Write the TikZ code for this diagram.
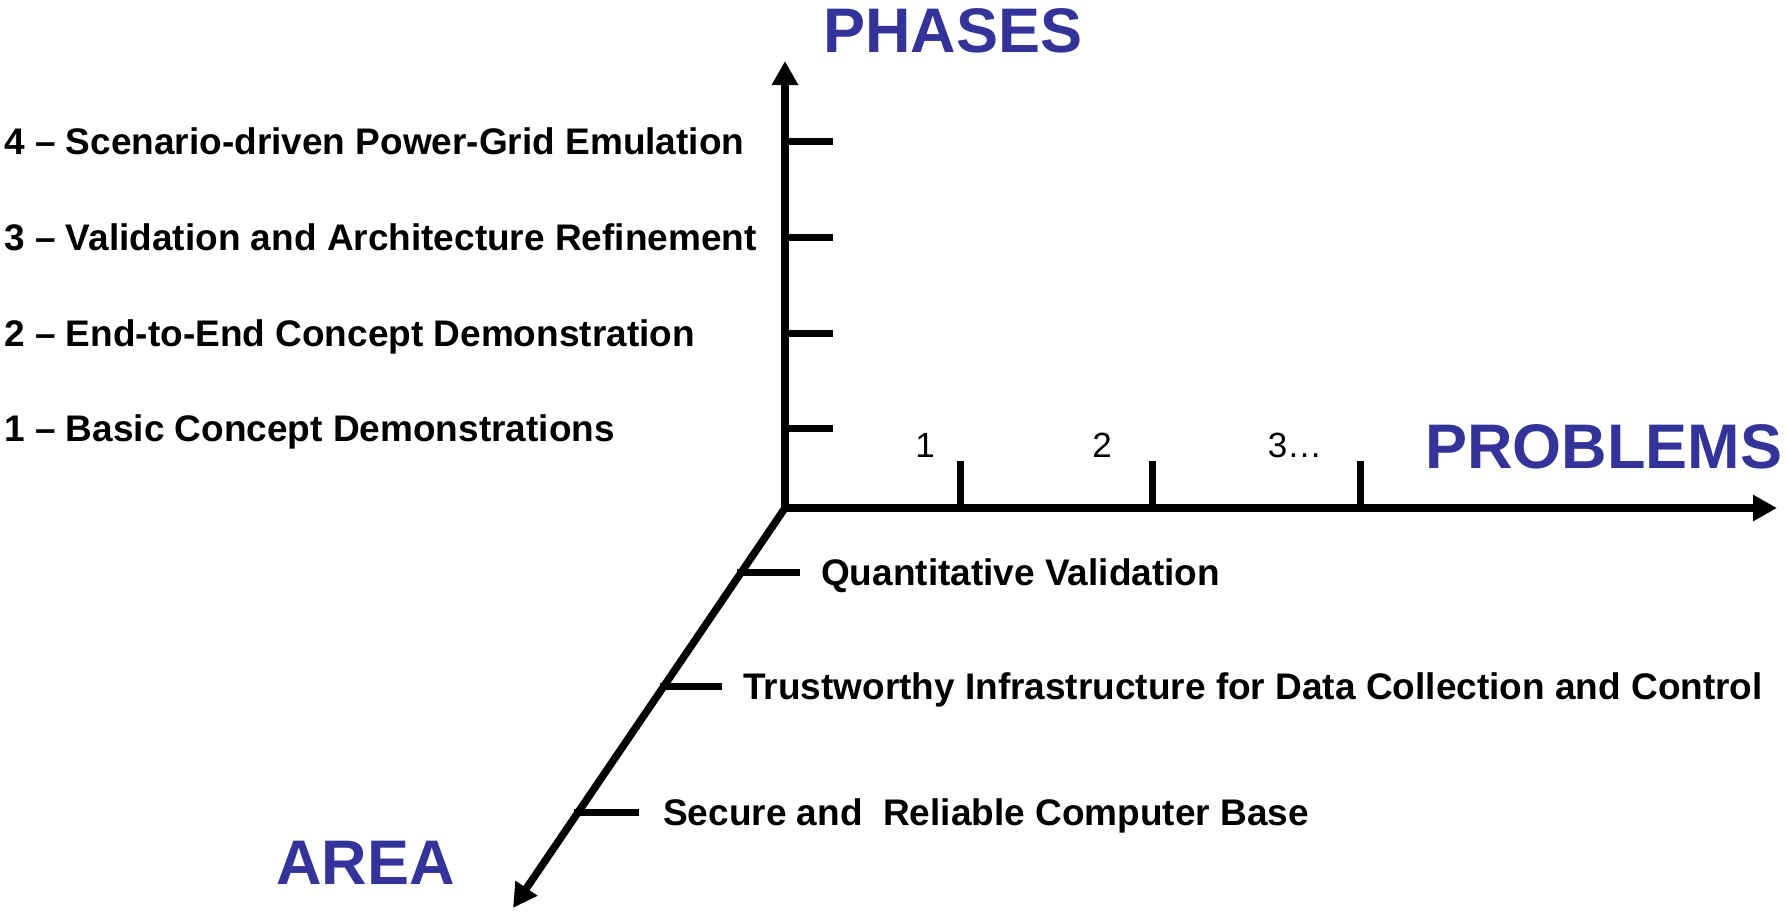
\documentclass[tikz,border=0pt]{standalone}
\usepackage{fontspec}
\setmainfont{Liberation Sans}
\usetikzlibrary{arrows.meta,calc}
\definecolor{axisblue}{HTML}{333399}
\begin{document}
\begin{tikzpicture}[x=1pt,y=-1pt,
  axistip/.tip={Triangle[length=24pt,width=25pt]},
  axisline/.style={line width=7.5pt,line join=miter},
  tickline/.style={line width=7pt},
  axistitle/.style={font=\fontsize{63}{63}\selectfont\bfseries,text=axisblue,anchor=base west,inner sep=0pt},
  levellabel/.style={font=\fontsize{37}{37}\selectfont\bfseries,anchor=base west,inner sep=0pt},
  problabel/.style={font=\fontsize{35}{35}\selectfont,anchor=base,inner sep=0pt}]
\useasboundingbox (0,0) rectangle (1787,911);

% axes
\coordinate (o) at (785,508);
\coordinate (ptop) at (785,61);
\coordinate (pright) at (1777,508);
\coordinate (adown) at (513,908);
\draw[axisline,axistip-axistip] (ptop) -- (o) -- (pright);
\draw[axisline,-axistip] (o) -- (adown);

% axis titles
\node[axistitle] (phases) at (823,52) {PHASES};
\node[axistitle] (problems) at (1425,468) {PROBLEMS};
\node[axistitle] (area) at (276,884) {AREA};

% phase ticks and labels
\foreach \i/\y/\txt in {4/141/{4 – Scenario-driven Power-Grid Emulation},
                        3/237/{3 – Validation and Architecture Refinement},
                        2/333/{2 – End-to-End Concept Demonstration},
                        1/428/{1 – Basic Concept Demonstrations}}{
  \coordinate (ph\i) at (785,\y);
  \draw[tickline] (ph\i) -- ++(48,0);
  \node[levellabel] (phl\i) at (4,\y+13) {\txt};
}

% problem ticks and labels
\foreach \i/\x/\lx/\txt in {1/960/925/1, 2/1152/1102/2, 3/1360/1295/3…}{
  \coordinate (pb\i) at (\x,508);
  \draw[tickline] (pb\i) -- ++(0,-47);
  \node[problabel] (pbl\i) at (\lx,457) {\txt};
}

% area ticks and labels
\foreach \i/\t/\len/\lx/\txt in {1/0.16/63/821/{Quantitative Validation},
                                 2/0.445/62/743/{Trustworthy Infrastructure for Data Collection and Control},
                                 3/0.76/65/663/{Secure and\ \ Reliable Computer Base}}{
  \coordinate (ar\i) at ($(o)!\t!(adown)+(-4,0)$);
  \draw[tickline] (ar\i) -- ++(\len,0);
  \path (ar\i) ++(0,13) coordinate (arb\i);
  \node[levellabel] (arl\i) at (\lx,0 |- arb\i) {\txt};
}
\end{tikzpicture}
\end{document}
